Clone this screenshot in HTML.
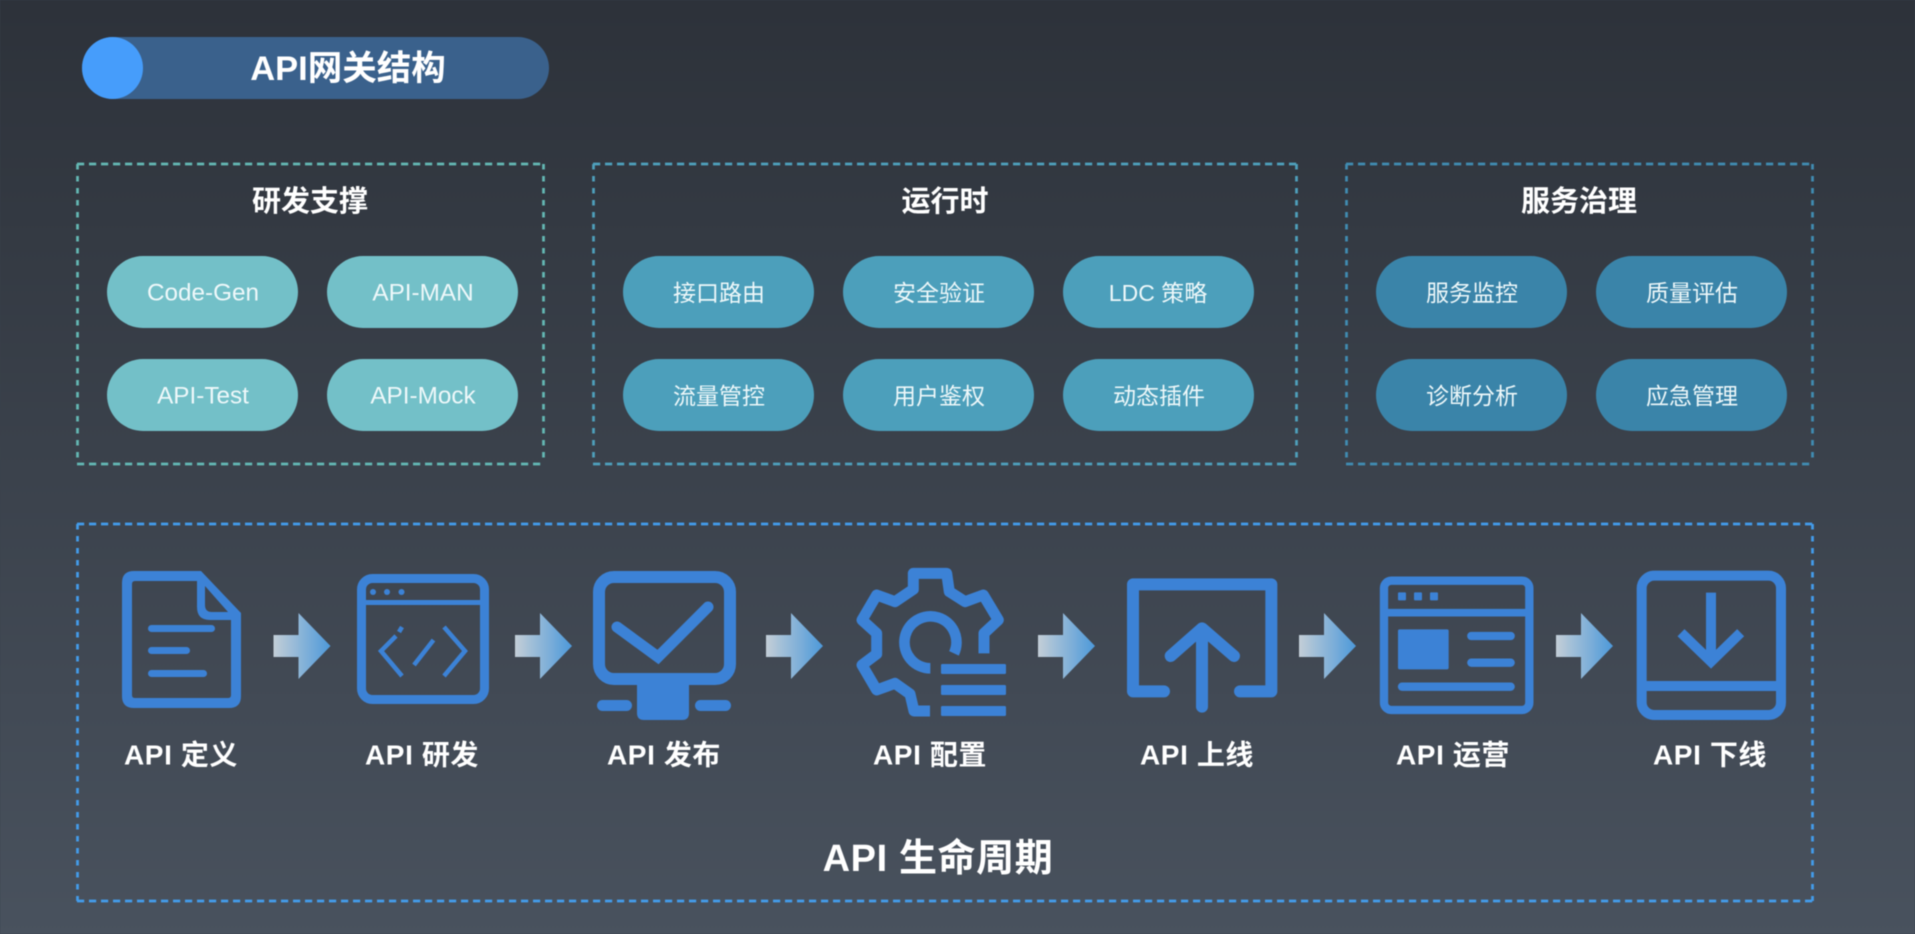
<!DOCTYPE html>
<html lang="zh"><head><meta charset="utf-8"><title>API网关结构</title>
<style>
html,body{margin:0;padding:0;width:1915px;height:934px;overflow:hidden;background:#3a424d}
svg{display:block;filter:blur(.45px)}
text{font-family:"Liberation Sans","Noto Sans CJK SC",sans-serif;fill:#fff;text-anchor:middle;dominant-baseline:central}
.h{font-size:29px;font-weight:700}
.p{font-size:23px;fill:#eef8fa}
.e{font-size:24.300px;fill:#eef8fa}
.l{font-size:28px;font-weight:700;letter-spacing:.6px}
.ic{fill:none;stroke:#3c82d6}
.f{fill:#3c82d6}
</style></head><body>
<svg width="1915" height="934" viewBox="0 0 1915 934" xmlns="http://www.w3.org/2000/svg">
<defs>
<linearGradient id="bg" x1="0" y1="0" x2="0" y2="1"><stop offset="0" stop-color="#2d323a"/><stop offset="1" stop-color="#49525e"/></linearGradient>
<linearGradient id="ar" x1="0" y1="0" x2="1" y2="0"><stop offset="0" stop-color="#c3ced7"/><stop offset="1" stop-color="#4d99da"/></linearGradient>
<path id="arrow" d="M0,-11 H25 V-33 L57,0 L25,33 V11 H0 Z" fill="url(#ar)"/>
</defs>
<rect width="1915" height="934" fill="url(#bg)"/>

<!-- title -->
<rect x="82" y="37" width="467" height="62" rx="31" fill="#3a618c"/>
<ellipse cx="112.500" cy="68" rx="30.500" ry="31" fill="#469dfb"/>
<text x="348" y="69" style="font-size:34.500px;font-weight:700">API网关结构</text>

<!-- dashed boxes: horizontal dashes longer, vertical dashes shorter -->
<g fill="none" stroke-width="2.700">
<g stroke="#64b8b4">
<path stroke-dasharray="7.200 4.800" d="M77,164 H544 M77,464 H544"/>
<path stroke-dasharray="5.500 6.500" d="M77.500,164 V464 M543.500,164 V464"/>
</g>
<g stroke="#4fa0bc">
<path stroke-dasharray="7.200 4.800" d="M593,164 H1297 M593,464 H1297"/>
<path stroke-dasharray="5.500 6.500" d="M593.500,164 V464 M1296.500,164 V464"/>
</g>
<g stroke="#408cb2">
<path stroke-dasharray="7.200 4.800" d="M1346,164 H1813 M1346,464 H1813"/>
<path stroke-dasharray="5.500 6.500" d="M1346.500,164 V464 M1812.500,164 V464"/>
</g>
<g stroke="#439ceb">
<path stroke-dasharray="7.200 4.800" d="M77,524 H1813 M77,901 H1813"/>
<path stroke-dasharray="5.500 6.500" d="M77.500,524 V901 M1812.500,524 V901"/>
</g>
</g>

<text class="h" x="310" y="202">研发支撑</text>
<text class="h" x="945" y="202">运行时</text>
<text class="h" x="1579" y="202">服务治理</text>

<!-- pills -->
<g fill="#73c0c8">
<rect x="107" y="256" width="191" height="72" rx="36"/><rect x="327" y="256" width="191" height="72" rx="36"/>
<rect x="107" y="359" width="191" height="72" rx="36"/><rect x="327" y="359" width="191" height="72" rx="36"/>
</g>
<g fill="#4c9fbb">
<rect x="623" y="256" width="191" height="72" rx="36"/><rect x="843" y="256" width="191" height="72" rx="36"/><rect x="1063" y="256" width="191" height="72" rx="36"/>
<rect x="623" y="359" width="191" height="72" rx="36"/><rect x="843" y="359" width="191" height="72" rx="36"/><rect x="1063" y="359" width="191" height="72" rx="36"/>
</g>
<g fill="#3a84a9">
<rect x="1376" y="256" width="191" height="72" rx="36"/><rect x="1596" y="256" width="191" height="72" rx="36"/>
<rect x="1376" y="359" width="191" height="72" rx="36"/><rect x="1596" y="359" width="191" height="72" rx="36"/>
</g>
<text class="e" x="203" y="293">Code-Gen</text><text class="e" x="423" y="293">API-MAN</text>
<text class="e" x="203" y="396">API-Test</text><text class="e" x="423" y="396">API-Mock</text>
<text class="p" x="719" y="293">接口路由</text><text class="p" x="939" y="293">安全验证</text><text class="p" x="1158" y="293">LDC 策略</text>
<text class="p" x="719" y="396">流量管控</text><text class="p" x="939" y="396">用户鉴权</text><text class="p" x="1159" y="396">动态插件</text>
<text class="p" x="1472" y="293">服务监控</text><text class="p" x="1692" y="293">质量评估</text>
<text class="p" x="1472" y="396">诊断分析</text><text class="p" x="1692" y="396">应急管理</text>

<!-- arrows -->
<use href="#arrow" x="273.500" y="646"/>
<use href="#arrow" x="515" y="646"/>
<use href="#arrow" x="766" y="646"/>
<use href="#arrow" x="1038" y="646"/>
<use href="#arrow" x="1299" y="646"/>
<use href="#arrow" x="1556" y="646"/>

<!-- doc icon -->
<path class="f" fill-rule="evenodd" d="M134,571 H201 L241,613 V696 Q241,708 229,708 H134 Q122,708 122,696 V583 Q122,571 134,571 Z M135,581 Q132,581 132,584 V695 Q132,698 135,698 H228 Q231,698 231,695 V620 H210 Q197,620 197,607 V581 Z M205,586 V605 Q205,612 212,612 H228 Z"/>
<g class="f">
<rect x="148" y="625" width="67" height="7" rx="3.500"/>
<rect x="148" y="647" width="42" height="7" rx="3.500"/>
<rect x="148" y="670" width="59" height="7" rx="3.500"/>
</g>

<!-- code window -->
<g class="ic">
<rect x="361.500" y="578.500" width="123" height="121" rx="11" stroke-width="9"/>
<path d="M361,602.500 H485" stroke-width="5"/>
<path d="M396,636 L381,651 L402,676 M402,627 L399,632 M444,627 L465,651 L444,676 M433.500,640 L414,665" stroke-width="4.500"/>
</g>
<g class="f"><circle cx="373" cy="592" r="3"/><circle cx="387" cy="592" r="3"/><circle cx="401.500" cy="592" r="3"/></g>

<!-- monitor -->
<g class="ic">
<rect x="599" y="577" width="131" height="102" rx="15" stroke-width="12"/>
<path d="M617,627 L658,657 L708,607" stroke-width="11" stroke-linecap="round"/>
</g>
<g class="f">
<path d="M637,684 H689 V713 Q689,720 682,720 H644 Q637,720 637,713 Z"/>
<rect x="597" y="700" width="35" height="11" rx="5.500"/>
<rect x="695" y="700" width="36" height="11" rx="5.500"/>
</g>

<!-- gear -->
<g transform="translate(560,550) scale(.33333)">
<path class="ic" stroke-width="33" stroke-linejoin="round" d="M1110,483 H1062 L1050,432 L1005,400 L950,420 L906,345 L950,312 V250 L906,210 L950,135 L1005,155 L1060,118 V70 H1160 L1168,125 L1215,155 L1270,135 L1315,210 L1272,250 V310"/>
<path class="ic" stroke-width="32" d="M1182,310 A78,78 0 1 0 1111,355"/>
<g class="f"><rect x="1143" y="342" width="195" height="30" rx="4"/><rect x="1143" y="405" width="195" height="30" rx="4"/><rect x="1143" y="468" width="195" height="30" rx="4"/></g>
</g>

<g transform="translate(1060,550) scale(.33333)">
<!-- upload -->
<g class="ic" stroke-width="36" stroke-linecap="round" stroke-linejoin="round">
<path d="M312,424 H219 V103 H634 V424 H540"/>
<path d="M426,235 V470 M332,318 L426,235 L522,318"/>
</g>
<!-- ops window -->
<g class="ic">
<rect x="972" y="92" width="436" height="388" rx="22" stroke-width="25"/>
<path d="M972,188 H1408" stroke-width="23"/>
<path d="M1234,258 H1352 M1234,338 H1352 M1026,410 H1352" stroke-width="25" stroke-linecap="round"/>
</g>
<g class="f">
<rect x="1014" y="127" width="24" height="24" rx="3"/><rect x="1062" y="127" width="24" height="24" rx="3"/><rect x="1110" y="127" width="24" height="24" rx="3"/>
<rect x="1014" y="238" width="152" height="120" rx="5"/>
</g>
</g>

<!-- download -->
<g transform="translate(1500,510) scale(.33333)" class="ic">
<rect x="425" y="197" width="418" height="418" rx="38" stroke-width="30"/>
<path d="M424,528 H844" stroke-width="30"/>
<path d="M633,248 V460 M543,368 L633,455 L722,368" stroke-width="30"/>
</g>

<!-- labels -->
<text class="l" x="181" y="755">API 定义</text>
<text class="l" x="422" y="755">API 研发</text>
<text class="l" x="664" y="755">API 发布</text>
<text class="l" x="930" y="755">API 配置</text>
<text class="l" x="1197" y="755">API 上线</text>
<text class="l" x="1453" y="755">API 运营</text>
<text class="l" x="1710" y="755">API 下线</text>
<text x="938" y="859" style="font-size:38px;font-weight:700;letter-spacing:.6px">API 生命周期</text>
</svg>
</body></html>
